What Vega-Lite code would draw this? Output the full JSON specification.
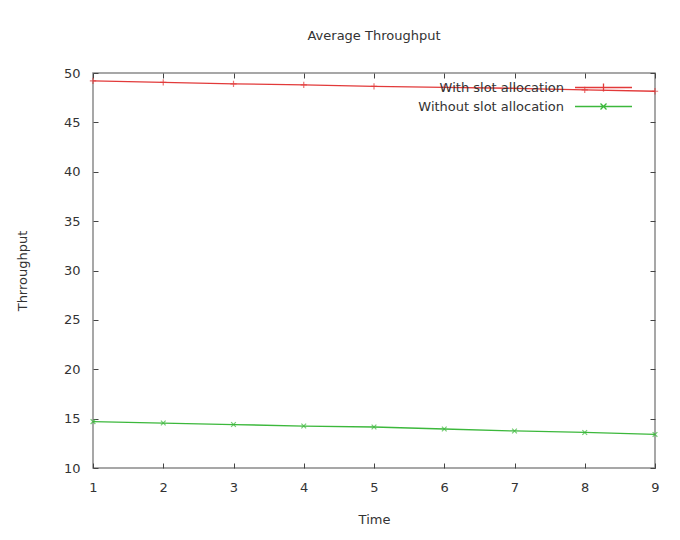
{
  "$schema": "https://vega.github.io/schema/vega-lite/v6.json",
  "width": 562,
  "height": 395,
  "autosize": {"type": "none"},
  "padding": {"left": 93, "top": 73, "right": 25, "bottom": 72},
  "background": "white",
  "config": {
    "font": "DejaVu Sans",
    "view": {"stroke": "#8a8a8a", "strokeWidth": 1.5},
    "axis": {
      "grid": false,
      "domain": false,
      "tickSize": -5,
      "tickColor": "#444",
      "labelFont": "DejaVu Sans",
      "labelFontSize": 13,
      "labelColor": "#333",
      "labelFlush": false,
      "titleFont": "DejaVu Sans",
      "titleFontSize": 13,
      "titleFontWeight": "normal",
      "titleColor": "#333"
    }
  },
  "title": {
    "text": "Average Throughput",
    "font": "DejaVu Sans",
    "fontSize": 13,
    "fontWeight": "normal",
    "color": "#333",
    "offset": 24
  },
  "data": {
    "values": [
      {"time": 1, "value": 49.2, "series": "With slot allocation"},
      {"time": 2, "value": 49.05, "series": "With slot allocation"},
      {"time": 3, "value": 48.9, "series": "With slot allocation"},
      {"time": 4, "value": 48.8, "series": "With slot allocation"},
      {"time": 5, "value": 48.65, "series": "With slot allocation"},
      {"time": 6, "value": 48.55, "series": "With slot allocation"},
      {"time": 7, "value": 48.45, "series": "With slot allocation"},
      {"time": 8, "value": 48.3, "series": "With slot allocation"},
      {"time": 9, "value": 48.15, "series": "With slot allocation"},
      {"time": 1, "value": 14.7, "series": "Without slot allocation"},
      {"time": 2, "value": 14.55, "series": "Without slot allocation"},
      {"time": 3, "value": 14.4, "series": "Without slot allocation"},
      {"time": 4, "value": 14.25, "series": "Without slot allocation"},
      {"time": 5, "value": 14.15, "series": "Without slot allocation"},
      {"time": 6, "value": 13.95, "series": "Without slot allocation"},
      {"time": 7, "value": 13.75, "series": "Without slot allocation"},
      {"time": 8, "value": 13.6, "series": "Without slot allocation"},
      {"time": 9, "value": 13.4, "series": "Without slot allocation"}
    ]
  },
  "layer": [
    {
      "layer": [
        {
          "mark": {"type": "line", "strokeWidth": 1.3},
          "encoding": {
            "x": {
              "field": "time", "type": "quantitative",
              "scale": {"domain": [1, 9], "nice": false, "zero": false},
              "axis": {"values": [1,2,3,4,5,6,7,8,9], "title": "Time", "labelPadding": 18, "titlePadding": 19, "format": "d"}
            },
            "y": {
              "field": "value", "type": "quantitative",
              "scale": {"domain": [10, 50], "nice": false, "zero": false},
              "axis": {"values": [10,15,20,25,30,35,40,45,50], "title": "Thrroughput", "labelPadding": 18, "titlePadding": 34}
            },
            "color": {
              "field": "series", "type": "nominal",
              "scale": {"domain": ["With slot allocation", "Without slot allocation"], "range": ["#e23a3a", "#3cb83c"]},
              "legend": {
                "title": null,
                "orient": "none",
                "legendX": 504,
                "legendY": 8,
                "symbolSize": 100,
                "symbolType": "M-5.7,0H5.7M0,-0.8V0.8",
                "symbolStrokeWidth": 1.3,
                "symbolFillColor": "transparent",
                "labelFont": "DejaVu Sans",
                "labelFontSize": 13,
                "labelColor": "#333",
                "labelAlign": "right",
                "labelOffset": -46,
                "rowPadding": 5,
                "encode": {
                  "symbols": {
                    "update": {
                      "shape": {"signal": "datum.value === 'With slot allocation' ? 'M-5.7,0H5.7M0,-0.8V0.8' : 'M-5.7,0H5.7M-0.6,-0.6L0.6,0.6M-0.6,0.6L0.6,-0.6'"}
                    }
                  }
                }
              }
            }
          }
        },
        {
          "transform": [{"filter": "datum.series === 'With slot allocation'"}],
          "mark": {"type": "point", "filled": false, "size": 40, "strokeWidth": 1.2, "shape": "M-1,0H1M0,-1V1"},
          "encoding": {
            "x": {"field": "time", "type": "quantitative"},
            "y": {"field": "value", "type": "quantitative"},
            "color": {"field": "series", "type": "nominal"}
          }
        },
        {
          "transform": [{"filter": "datum.series === 'Without slot allocation'"}],
          "mark": {"type": "point", "filled": false, "size": 40, "strokeWidth": 1.2, "shape": "M-0.75,-0.75L0.75,0.75M-0.75,0.75L0.75,-0.75"},
          "encoding": {
            "x": {"field": "time", "type": "quantitative"},
            "y": {"field": "value", "type": "quantitative"},
            "color": {"field": "series", "type": "nominal"}
          }
        }
      ]
    },
    {
      "mark": {"type": "rule", "opacity": 0},
      "encoding": {
        "x": {"field": "time", "type": "quantitative", "axis": {"orient": "top", "values": [1,2,3,4,5,6,7,8,9], "labels": false, "title": null}},
        "y": {"field": "value", "type": "quantitative", "axis": {"orient": "right", "values": [10,15,20,25,30,35,40,45,50], "labels": false, "title": null}}
      }
    }
  ],
  "resolve": {"axis": {"x": "independent", "y": "independent"}}
}
